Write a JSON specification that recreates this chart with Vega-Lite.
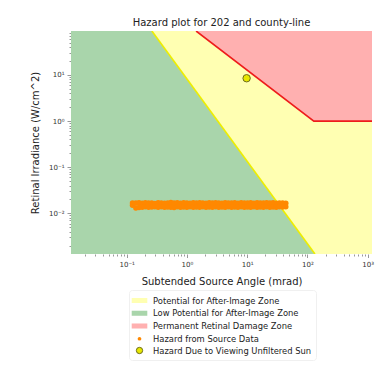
{
  "$schema": "https://vega.github.io/schema/vega-lite/v6.json",
  "width": 301,
  "height": 223,
  "autosize": "none",
  "padding": {"left": 71, "top": 31, "right": 19, "bottom": 118},
  "background": "white",
  "title": {"text": "Hazard plot for 202 and county-line", "fontSize": 10, "font": "DejaVu Sans", "fontWeight": "normal", "color": "#222", "anchor": "middle", "frame": "group", "offset": 5, "baseline": "alphabetic", "dy": 12},
  "config": {"view": {"stroke": null}, "font": "DejaVu Sans"},
  "datasets": {
    "yellowZone": [
      {"x": 0.0119, "y": 90, "y2": 0.00131, "series": "Potential for After-Image Zone"},
      {"x": 1183, "y": 90, "y2": 0.00131, "series": "Potential for After-Image Zone"}
    ],
    "greenZone": [
      {"x": 0.0119, "y": 90, "y2": 0.00131, "series": "Low Potential for After-Image Zone"},
      {"x": 0.262, "y": 90, "y2": 0.00131, "series": "Low Potential for After-Image Zone"},
      {"x": 133.6, "y": 0.00131, "y2": 0.00131, "series": "Low Potential for After-Image Zone"}
    ],
    "redZone": [
      {"x": 1.42, "y": 90, "y2": 90, "series": "Permanent Retinal Damage Zone"},
      {"x": 128, "y": 1, "y2": 90, "series": "Permanent Retinal Damage Zone"},
      {"x": 1183, "y": 1, "y2": 90, "series": "Permanent Retinal Damage Zone"}
    ],
    "yellowLine": [
      {"x": 0.262, "y": 90},
      {"x": 133.6, "y": 0.00131}
    ],
    "redLine": [
      {"x": 1.42, "y": 90},
      {"x": 128, "y": 1},
      {"x": 1183, "y": 1}
    ],
    "sun": [
      {"x": 9.8, "y": 8.5, "series": "Hazard Due to Viewing Unfiltered Sun"}
    ],
    "source": [
      {"x": 0.125, "y": 0.0168, "series": "Hazard from Source Data"},
      {"x": 0.125, "y": 0.0150, "series": "Hazard from Source Data"},
      {"x": 0.142, "y": 0.0167, "series": "Hazard from Source Data"},
      {"x": 0.142, "y": 0.0130, "series": "Hazard from Source Data"},
      {"x": 0.160, "y": 0.0170, "series": "Hazard from Source Data"},
      {"x": 0.160, "y": 0.0133, "series": "Hazard from Source Data"},
      {"x": 0.181, "y": 0.0166, "series": "Hazard from Source Data"},
      {"x": 0.181, "y": 0.0136, "series": "Hazard from Source Data"},
      {"x": 0.204, "y": 0.0169, "series": "Hazard from Source Data"},
      {"x": 0.204, "y": 0.0138, "series": "Hazard from Source Data"},
      {"x": 0.231, "y": 0.0167, "series": "Hazard from Source Data"},
      {"x": 0.231, "y": 0.0135, "series": "Hazard from Source Data"},
      {"x": 0.261, "y": 0.0168, "series": "Hazard from Source Data"},
      {"x": 0.261, "y": 0.0137, "series": "Hazard from Source Data"},
      {"x": 0.294, "y": 0.0164, "series": "Hazard from Source Data"},
      {"x": 0.294, "y": 0.0139, "series": "Hazard from Source Data"},
      {"x": 0.333, "y": 0.0169, "series": "Hazard from Source Data"},
      {"x": 0.333, "y": 0.0136, "series": "Hazard from Source Data"},
      {"x": 0.376, "y": 0.0167, "series": "Hazard from Source Data"},
      {"x": 0.376, "y": 0.0138, "series": "Hazard from Source Data"},
      {"x": 0.425, "y": 0.0165, "series": "Hazard from Source Data"},
      {"x": 0.425, "y": 0.0135, "series": "Hazard from Source Data"},
      {"x": 0.480, "y": 0.0168, "series": "Hazard from Source Data"},
      {"x": 0.480, "y": 0.0137, "series": "Hazard from Source Data"},
      {"x": 0.542, "y": 0.0171, "series": "Hazard from Source Data"},
      {"x": 0.542, "y": 0.0136, "series": "Hazard from Source Data"},
      {"x": 0.612, "y": 0.0167, "series": "Hazard from Source Data"},
      {"x": 0.612, "y": 0.0134, "series": "Hazard from Source Data"},
      {"x": 0.692, "y": 0.0169, "series": "Hazard from Source Data"},
      {"x": 0.692, "y": 0.0138, "series": "Hazard from Source Data"},
      {"x": 0.782, "y": 0.0166, "series": "Hazard from Source Data"},
      {"x": 0.782, "y": 0.0135, "series": "Hazard from Source Data"},
      {"x": 0.883, "y": 0.0170, "series": "Hazard from Source Data"},
      {"x": 0.883, "y": 0.0137, "series": "Hazard from Source Data"},
      {"x": 0.998, "y": 0.0168, "series": "Hazard from Source Data"},
      {"x": 0.998, "y": 0.0136, "series": "Hazard from Source Data"},
      {"x": 1.127, "y": 0.0166, "series": "Hazard from Source Data"},
      {"x": 1.127, "y": 0.0138, "series": "Hazard from Source Data"},
      {"x": 1.274, "y": 0.0169, "series": "Hazard from Source Data"},
      {"x": 1.274, "y": 0.0135, "series": "Hazard from Source Data"},
      {"x": 1.439, "y": 0.0167, "series": "Hazard from Source Data"},
      {"x": 1.439, "y": 0.0137, "series": "Hazard from Source Data"},
      {"x": 1.626, "y": 0.0170, "series": "Hazard from Source Data"},
      {"x": 1.626, "y": 0.0136, "series": "Hazard from Source Data"},
      {"x": 1.837, "y": 0.0168, "series": "Hazard from Source Data"},
      {"x": 1.837, "y": 0.0138, "series": "Hazard from Source Data"},
      {"x": 2.075, "y": 0.0166, "series": "Hazard from Source Data"},
      {"x": 2.075, "y": 0.0135, "series": "Hazard from Source Data"},
      {"x": 2.344, "y": 0.0169, "series": "Hazard from Source Data"},
      {"x": 2.344, "y": 0.0137, "series": "Hazard from Source Data"},
      {"x": 2.649, "y": 0.0167, "series": "Hazard from Source Data"},
      {"x": 2.649, "y": 0.0136, "series": "Hazard from Source Data"},
      {"x": 2.992, "y": 0.0170, "series": "Hazard from Source Data"},
      {"x": 2.992, "y": 0.0138, "series": "Hazard from Source Data"},
      {"x": 3.381, "y": 0.0168, "series": "Hazard from Source Data"},
      {"x": 3.381, "y": 0.0135, "series": "Hazard from Source Data"},
      {"x": 3.819, "y": 0.0166, "series": "Hazard from Source Data"},
      {"x": 3.819, "y": 0.0137, "series": "Hazard from Source Data"},
      {"x": 4.315, "y": 0.0169, "series": "Hazard from Source Data"},
      {"x": 4.315, "y": 0.0136, "series": "Hazard from Source Data"},
      {"x": 4.875, "y": 0.0167, "series": "Hazard from Source Data"},
      {"x": 4.875, "y": 0.0138, "series": "Hazard from Source Data"},
      {"x": 5.508, "y": 0.0168, "series": "Hazard from Source Data"},
      {"x": 5.508, "y": 0.0135, "series": "Hazard from Source Data"},
      {"x": 6.223, "y": 0.0170, "series": "Hazard from Source Data"},
      {"x": 6.223, "y": 0.0137, "series": "Hazard from Source Data"},
      {"x": 7.031, "y": 0.0166, "series": "Hazard from Source Data"},
      {"x": 7.031, "y": 0.0136, "series": "Hazard from Source Data"},
      {"x": 7.943, "y": 0.0169, "series": "Hazard from Source Data"},
      {"x": 7.943, "y": 0.0138, "series": "Hazard from Source Data"},
      {"x": 8.974, "y": 0.0167, "series": "Hazard from Source Data"},
      {"x": 8.974, "y": 0.0135, "series": "Hazard from Source Data"},
      {"x": 10.14, "y": 0.0168, "series": "Hazard from Source Data"},
      {"x": 10.14, "y": 0.0137, "series": "Hazard from Source Data"},
      {"x": 11.46, "y": 0.0170, "series": "Hazard from Source Data"},
      {"x": 11.46, "y": 0.0136, "series": "Hazard from Source Data"},
      {"x": 12.94, "y": 0.0166, "series": "Hazard from Source Data"},
      {"x": 12.94, "y": 0.0138, "series": "Hazard from Source Data"},
      {"x": 14.62, "y": 0.0169, "series": "Hazard from Source Data"},
      {"x": 14.62, "y": 0.0135, "series": "Hazard from Source Data"},
      {"x": 16.52, "y": 0.0167, "series": "Hazard from Source Data"},
      {"x": 16.52, "y": 0.0137, "series": "Hazard from Source Data"},
      {"x": 18.66, "y": 0.0168, "series": "Hazard from Source Data"},
      {"x": 18.66, "y": 0.0136, "series": "Hazard from Source Data"},
      {"x": 21.09, "y": 0.0170, "series": "Hazard from Source Data"},
      {"x": 21.09, "y": 0.0138, "series": "Hazard from Source Data"},
      {"x": 23.82, "y": 0.0167, "series": "Hazard from Source Data"},
      {"x": 23.82, "y": 0.0135, "series": "Hazard from Source Data"},
      {"x": 26.92, "y": 0.0169, "series": "Hazard from Source Data"},
      {"x": 26.92, "y": 0.0137, "series": "Hazard from Source Data"},
      {"x": 30.41, "y": 0.0166, "series": "Hazard from Source Data"},
      {"x": 30.41, "y": 0.0136, "series": "Hazard from Source Data"},
      {"x": 34.36, "y": 0.0168, "series": "Hazard from Source Data"},
      {"x": 34.36, "y": 0.0138, "series": "Hazard from Source Data"},
      {"x": 38.82, "y": 0.0167, "series": "Hazard from Source Data"},
      {"x": 38.82, "y": 0.0137, "series": "Hazard from Source Data"},
      {"x": 43.85, "y": 0.0165, "series": "Hazard from Source Data"},
      {"x": 43.85, "y": 0.0139, "series": "Hazard from Source Data"}
    ]
  },
  "encoding": {
    "x": {
      "field": "x", "type": "quantitative",
      "scale": {"type": "log", "domain": [0.0119, 1183], "nice": false, "zero": false},
      "axis": {
        "title": "Subtended Source Angle (mrad)",
        "values": [0.02,0.03,0.04,0.05,0.06,0.07,0.08,0.09,0.1,0.2,0.3,0.4,0.5,0.6,0.7,0.8,0.9,1,2,3,4,5,6,7,8,9,10,20,30,40,50,60,70,80,90,100,200,300,400,500,600,700,800,900,1000],
        "labelExpr": "datum.value == 0.1 ? '10⁻¹' : datum.value == 1 ? '10⁰' : datum.value == 10 ? '10¹' : datum.value == 100 ? '10²' : datum.value == 1000 ? '10³' : ''",
        "tickSize": {"condition": {"test": "indexof([0.1,1,10,100,1000], datum.value) >= 0", "value": 3.5}, "value": 2},
        "tickColor": "#999",
        "grid": false, "domain": false,
        "labelFont": "DejaVu Sans", "labelFontSize": 7, "labelColor": "#333", "labelPadding": 3,
        "labelOverlap": false, "labelFlush": false,
        "titleFont": "DejaVu Sans", "titleFontSize": 10, "titleFontWeight": "normal", "titleColor": "#222", "titlePadding": 9
      }
    },
    "y": {
      "field": "y", "type": "quantitative",
      "scale": {"type": "log", "domain": [0.00131, 90], "nice": false, "zero": false},
      "axis": {
        "title": "Retinal Irradiance (W/cm^2)",
        "values": [0.002,0.003,0.004,0.005,0.006,0.007,0.008,0.009,0.01,0.02,0.03,0.04,0.05,0.06,0.07,0.08,0.09,0.1,0.2,0.3,0.4,0.5,0.6,0.7,0.8,0.9,1,2,3,4,5,6,7,8,9,10,20,30,40,50,60,70,80],
        "labelExpr": "datum.value == 0.01 ? '10⁻²' : datum.value == 0.1 ? '10⁻¹' : datum.value == 1 ? '10⁰' : datum.value == 10 ? '10¹' : ''",
        "tickSize": {"condition": {"test": "indexof([0.01,0.1,1,10], datum.value) >= 0", "value": 4}, "value": 2},
        "tickColor": "#999",
        "grid": false, "domain": false,
        "labelFont": "DejaVu Sans", "labelFontSize": 7, "labelColor": "#333", "labelPadding": 3,
        "labelOverlap": false, "labelFlush": false,
        "titleFont": "DejaVu Sans", "titleFontSize": 10, "titleFontWeight": "normal", "titleColor": "#222", "titlePadding": 8
      }
    }
  },
  "layer": [
    {
      "data": {"name": "yellowZone"},
      "mark": {"type": "area", "clip": true},
      "encoding": {
        "y2": {"field": "y2"},
        "color": {
          "field": "series", "type": "nominal",
          "scale": {
            "domain": ["Potential for After-Image Zone", "Low Potential for After-Image Zone", "Permanent Retinal Damage Zone", "Hazard from Source Data", "Hazard Due to Viewing Unfiltered Sun"],
            "range": ["#ffffb2", "#a9d5ab", "#ffb0b0", "#ff8800", "#e8e800"]
          },
          "legend": {
            "title": null,
            "orient": "none", "legendX": 58, "legendY": 259,
            "labelFont": "DejaVu Sans", "labelFontSize": 8.4, "labelColor": "#222",
            "padding": 4, "rowPadding": 0.75, "labelOffset": 7, "symbolOffset": 0,
            "strokeColor": "#f0f0f0", "cornerRadius": 3, "fillColor": "white",
            "encode": {
              "symbols": {
                "update": {
                  "shape": {"signal": "datum.value == 'Hazard from Source Data' || datum.value == 'Hazard Due to Viewing Unfiltered Sun' ? 'circle' : 'M-1.3,-0.42H1.3V0.42H-1.3Z'"},
                  "size": {"signal": "datum.value == 'Hazard from Source Data' ? 14 : datum.value == 'Hazard Due to Viewing Unfiltered Sun' ? 40 : 144"},
                  "stroke": {"signal": "datum.value == 'Hazard Due to Viewing Unfiltered Sun' ? '#6d6d1f' : 'transparent'"},
                  "strokeWidth": {"value": 1},
                  "opacity": {"value": 1}
                }
              }
            }
          }
        }
      }
    },
    {
      "data": {"name": "greenZone"},
      "mark": {"type": "area", "clip": true},
      "encoding": {"y2": {"field": "y2"}, "color": {"field": "series", "type": "nominal"}}
    },
    {
      "data": {"name": "redZone"},
      "mark": {"type": "area", "clip": true},
      "encoding": {"y2": {"field": "y2"}, "color": {"field": "series", "type": "nominal"}}
    },
    {
      "data": {"name": "yellowLine"},
      "mark": {"type": "line", "clip": true, "color": "#eeee00", "strokeWidth": 1.6},
      "encoding": {}
    },
    {
      "data": {"name": "redLine"},
      "mark": {"type": "line", "clip": true, "color": "#ee1c1c", "strokeWidth": 1.6},
      "encoding": {}
    },
    {
      "data": {"name": "source"},
      "mark": {"type": "point", "filled": true, "size": 30, "opacity": 1, "clip": true},
      "encoding": {"color": {"field": "series", "type": "nominal"}}
    },
    {
      "data": {"name": "sun"},
      "mark": {"type": "point", "filled": true, "size": 55, "opacity": 1, "stroke": "#6d6d1f", "strokeWidth": 1, "clip": true},
      "encoding": {"color": {"field": "series", "type": "nominal"}}
    }
  ]
}
